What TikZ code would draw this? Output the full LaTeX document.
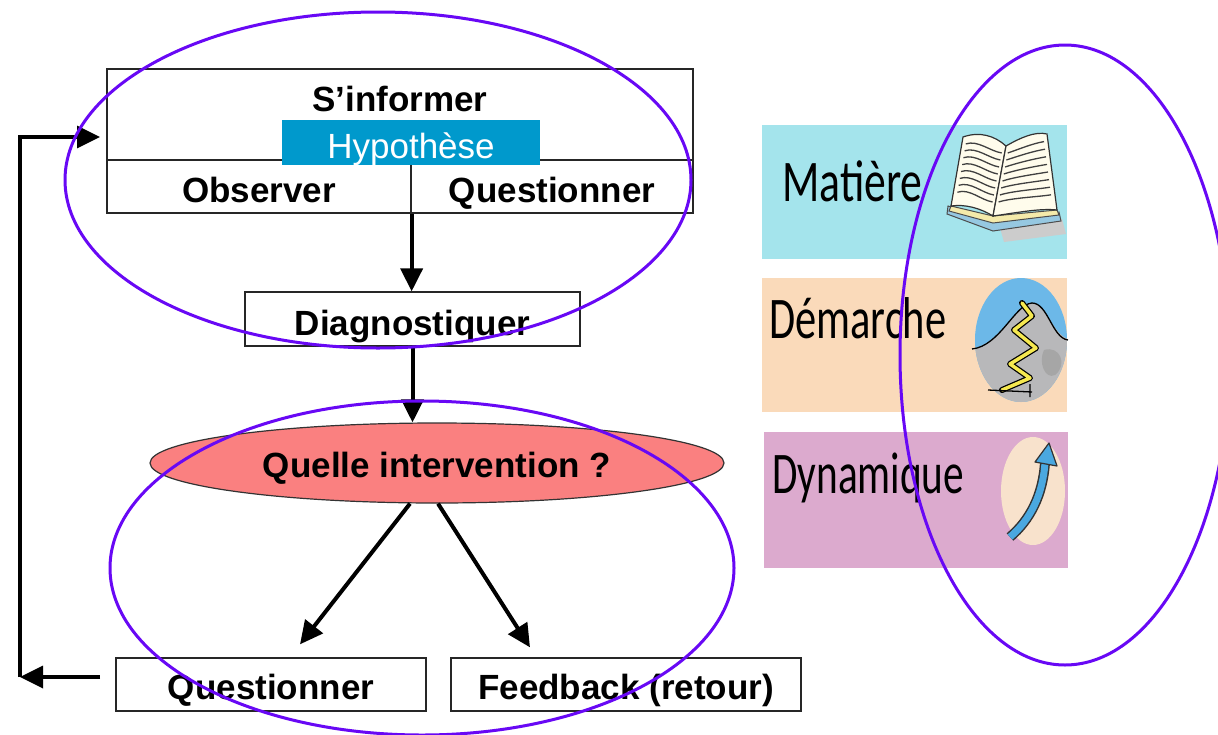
\documentclass[tikz,border=0pt]{standalone}
\usepackage{fontspec}
\setmainfont{Liberation Sans}
\newfontfamily\calibfont{Carlito}
\usetikzlibrary{arrows.meta,shapes.geometric,calc}
\definecolor{hypblue}{RGB}{0,153,204}
\definecolor{ovalred}{RGB}{250,128,128}
\definecolor{ringviolet}{RGB}{104,8,245}
\definecolor{cyanpanel}{RGB}{164,228,236}
\definecolor{peachpanel}{RGB}{250,218,186}
\definecolor{mauvepanel}{RGB}{220,170,206}
\definecolor{skyblue}{RGB}{108,184,232}
\definecolor{rockgray}{RGB}{184,184,186}
\definecolor{trailyellow}{RGB}{245,232,80}
\definecolor{beige}{RGB}{248,226,204}
\definecolor{arrowblue}{RGB}{74,168,224}
\definecolor{pagecream}{RGB}{255,252,236}
\definecolor{pageyellow}{RGB}{244,234,170}
\definecolor{coverblue}{RGB}{150,200,225}
\begin{document}
\begin{tikzpicture}[x=1pt,y=-1pt,
  box/.style={draw=black!85, line width=1.3pt, inner sep=0pt, text depth=0pt,
    font=\fontsize{35}{40}\selectfont\bfseries},
  flow/.style={line width=4pt, -{Triangle[length=23pt,width=22pt]}},
  ring/.style={draw=ringviolet, line width=3pt},
  panel/.style={inner sep=0pt, anchor=north west},
  paneltext/.style={anchor=base west, inner sep=0pt,
    font=\calibfont\fontsize{59}{62}\selectfont}]
\useasboundingbox (0,0) rectangle (1218,734);
\fill[white] (0,0) rectangle (1218,734);

% ---------- flow chart ----------
\node[box, minimum width=586pt, minimum height=91pt, text height=25pt, text depth=32pt]
  (inform) at (400,114.5) {S’informer};
\node[box, minimum width=304pt, minimum height=53pt, text height=31pt]
  (obs) at (259,186.5) {Observer};
\node[box, minimum width=282pt, minimum height=53pt, text height=31pt]
  (ques) at (552,186.5) {Questionner};
\node[fill=hypblue, text=white, minimum width=258pt, minimum height=45pt, inner sep=0pt,
  text height=31pt, text depth=0pt, font=\fontsize{35}{40}\selectfont]
  (hyp) at (411,142.5) {Hypothèse};

\node[box, minimum width=335pt, minimum height=54pt, text height=32pt]
  (diag) at (412.5,319) {Diagnostiquer};

\node[ellipse, draw=black!80, line width=1.2pt, fill=ovalred, minimum width=574pt,
  minimum height=80pt, inner sep=0pt, text height=28pt, text depth=0pt,
  font=\fontsize{35}{40}\selectfont\bfseries]
  (qi) at (437,463) {Quelle intervention ?};

\node[box, minimum width=310pt, minimum height=53pt, text height=29pt]
  (qb) at (271,684.5) {Questionner};
\node[box, minimum width=350pt, minimum height=53pt, text height=29pt]
  (fb) at (626,684.5) {Feedback (retour)};

\draw[flow] (obs.south east) -- (obs.south east |- diag.north);
\draw[flow] (diag.south) -- (diag.south |- qi.north);
\draw[flow] ([xshift=-27pt]qi.south) -- ([xshift=29pt,yshift=13pt]qb.north);
\draw[flow] ([xshift=1pt]qi.south) -- ([xshift=-96pt,yshift=10pt]fb.north);

% feedback loop on the left
\coordinate (loopstart) at (100,677);
\coordinate (loopcorner) at (20,677);
\coordinate (loopend) at (100,137);
\draw[flow, line width=3.5pt] (loopstart) -- (loopcorner);
\draw[flow, line width=3.5pt] (loopcorner) -- (loopcorner |- loopend) -- (loopend);

% ---------- side panels ----------
\node[panel, fill=cyanpanel, minimum width=305pt, minimum height=134pt] (matp) at (762,125) {};
\node[panel, fill=peachpanel, minimum width=305pt, minimum height=134pt] (demp) at (762,278) {};
\node[panel, fill=mauvepanel, minimum width=304pt, minimum height=136pt] (dynp) at (764,432) {};

\node[paneltext] (matt) at (782,201) {\scalebox{0.74}[1]{Matière}};
\node[paneltext] (demt) at (769,338) {\scalebox{0.72}[1]{Démarche}};
\node[paneltext] (dynt) at (772,493) {\scalebox{0.70}[1]{Dynamique}};

% open book
\fill[gray!40] (1000,228) -- (1062,219) -- (1066,234) -- (1004,242) -- cycle;
\filldraw[fill=coverblue, draw=black!70, line width=1pt]
  (948,206) -- (993,222) -- (1059,212) -- (1061,221) -- (993,231) -- (947,214) -- cycle;
\filldraw[fill=pageyellow, draw=black!70, line width=1pt]
  (951,206) -- (993,216) -- (1057,210) -- (1059,215) -- (993,223) -- (949,211) -- cycle;
\coordinate (bA) at (963,137);
\coordinate (bB) at (1006,146);
\coordinate (bC) at (993,216);
\coordinate (bD) at (951,206);
\coordinate (bE) at (1047,134);
\coordinate (bF) at (1057,210);
\filldraw[fill=pagecream, draw=black!80, line width=1.2pt]
  (bA) .. controls (980,131) and (995,136) .. (bB) -- (bC)
  .. controls (980,208) and (965,204) .. (bD) -- cycle;
\filldraw[fill=pagecream, draw=black!80, line width=1.2pt]
  (bB) .. controls (1020,138) and (1035,131) .. (bE) -- (bF)
  .. controls (1040,208) and (1015,213) .. (bC) -- cycle;
\foreach \t in {0.1,0.2,...,0.85} {
  \draw[black!75, line width=1.3pt]
    ($(bA)!\t!(bD)+(4,0)$) .. controls +(12,-4) and +(-12,-2) .. ($(bB)!\t!(bC)+(-3,0)$);
  \draw[black!75, line width=1.3pt]
    ($(bB)!\t!(bC)+(3,0)$) .. controls +(12,-4) and +(-12,2) .. ($(bE)!\t!(bF)+(-4,0)$);
}

% mountain with a winding trail
\begin{scope}
  \clip (1021,340) ellipse [x radius=46pt, y radius=62pt];
  \fill[skyblue] (960,270) rectangle (1080,410);
  \fill[rockgray] (970,349) .. controls (1000,346) and (1015,304) .. (1032,303)
    .. controls (1048,303) and (1052,338) .. (1072,340) -- (1072,410) -- (970,410) -- cycle;
  \fill[gray!70] (1044,350) .. controls (1060,345) and (1068,365) .. (1055,375)
    .. controls (1045,380) and (1038,362) .. cycle;
\end{scope}
\draw[black, line width=1.3pt] (972,349) .. controls (1000,346) and (1015,304) .. (1032,303)
  .. controls (1048,303) and (1052,338) .. (1068,340);
\draw[black, line width=6pt, line join=round, line cap=round]
  (1022,303) -- (1032,316) -- (1014,330) -- (1036,348) -- (1010,364) -- (1030,378) -- (1002,390);
\draw[trailyellow, line width=3.5pt, line join=round, line cap=round]
  (1022,303) -- (1032,316) -- (1014,330) -- (1036,348) -- (1010,364) -- (1030,378) -- (1002,390);
\draw[black, line width=1.3pt] (988,390) -- (1032,392) (1030,384) -- (1030,397);

% rising arrow
\fill[beige] (1033,491) ellipse [x radius=32pt, y radius=54pt];
\draw[black!80, line width=10pt] (1010,537) .. controls (1030,520) and (1043,495) .. (1045,462);
\draw[arrowblue, line width=7pt] (1010,537) .. controls (1030,520) and (1043,495) .. (1045,462);
\filldraw[fill=arrowblue, draw=black!80, line width=1.2pt, line join=round]
  (1049,443) -- (1057,466) -- (1035,462) -- cycle;

% ---------- highlight rings ----------
\draw[ring] (378,180) ellipse [x radius=313pt, y radius=168pt];
\draw[ring] (422,568) ellipse [x radius=312pt, y radius=167pt];
\draw[ring] (1065,355) ellipse [x radius=165pt, y radius=310pt];
\end{tikzpicture}
\end{document}
